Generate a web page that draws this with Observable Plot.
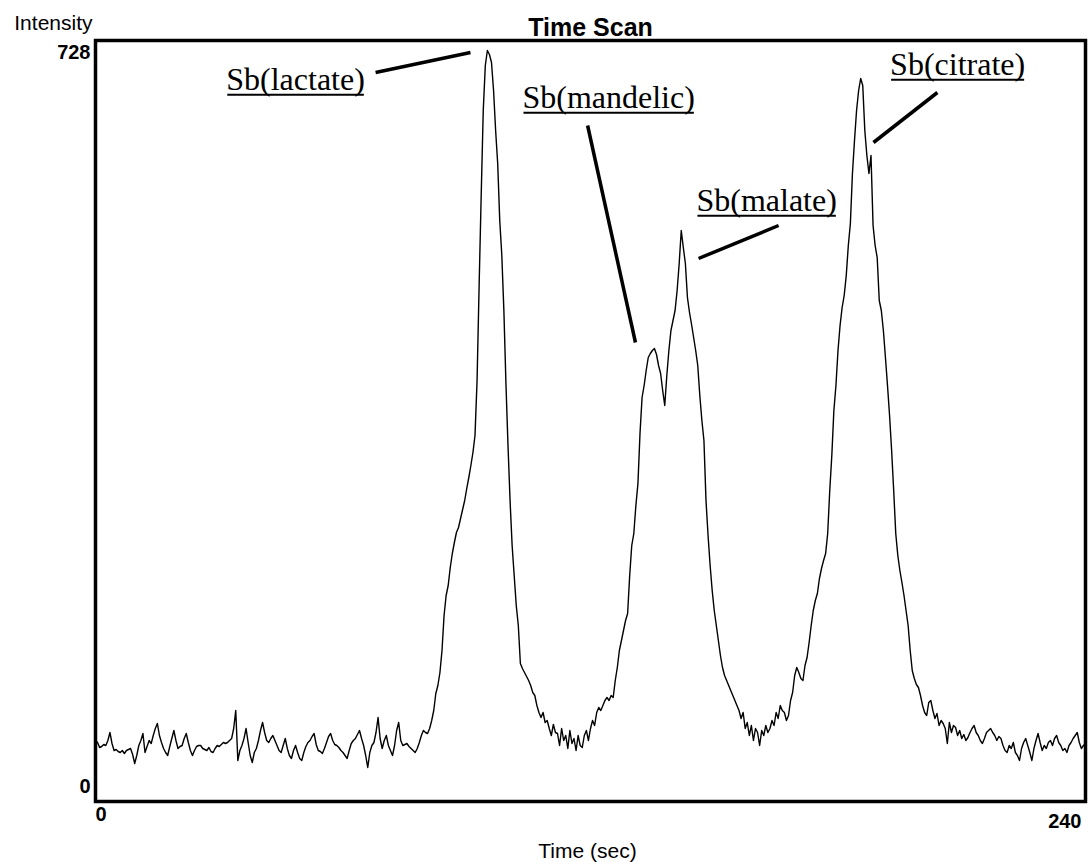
<!DOCTYPE html>
<html>
<head>
<meta charset="utf-8">
<script src="https://cdn.jsdelivr.net/npm/d3@7"></script>
<script src="https://cdn.jsdelivr.net/npm/@observablehq/plot@0.6"></script>
<style>
  html, body { margin: 0; padding: 0; background: #fff; }
</style>
</head>
<body>
<div id="chart"></div>
<script>
// Intensity readings, one every 0.5 s from 0 to 240 s
const intensity = [
  50,48,43,44,46,45,50,58,47,40,41,39,38,40,37,40,41,42,36,27,
  35,45,50,57,38,44,50,47,55,62,67,55,48,42,38,35,44,52,60,50,
  42,44,45,52,57,48,40,35,40,44,45,45,42,41,40,43,39,38,42,45,
  44,46,48,47,48,50,52,62,80,30,40,45,52,62,48,35,28,38,42,50,
  60,68,58,50,48,52,55,50,45,40,38,45,52,42,35,32,40,45,38,32,
  30,38,44,48,50,54,57,46,40,39,37,42,48,54,57,50,46,45,43,40,
  38,35,32,40,47,50,52,56,60,52,45,35,23,38,45,48,58,73,52,42,
  50,55,45,40,35,45,60,68,50,45,46,47,44,42,40,38,42,48,55,60,
  58,57,62,70,80,97,105,118,140,175,195,205,223,237,248,258,263,272,281,290,
  302,313,325,338,355,410,505,595,680,725,740,736,728,700,660,627,570,535,480,407,
  345,290,245,215,185,165,127,122,118,114,110,105,98,95,85,78,73,78,68,70,
  62,55,66,58,57,45,62,50,55,42,60,47,52,40,55,45,43,55,60,50,
  62,70,65,78,83,80,85,90,93,90,95,93,110,123,140,150,160,170,177,215,
  245,257,285,307,357,393,405,420,433,437,440,442,436,425,417,400,385,415,440,460,
  470,480,500,527,560,543,527,493,478,466,453,440,425,395,370,350,290,255,225,200,
  180,165,150,135,123,115,110,105,100,95,90,85,80,72,78,62,68,55,65,50,
  62,58,45,60,55,65,58,62,70,65,78,72,85,80,78,70,75,90,98,115,
  123,118,112,110,125,133,148,165,180,190,197,212,222,230,237,257,300,335,380,405,
  440,465,483,495,515,545,567,617,650,680,700,712,705,660,635,617,635,565,545,533,
  490,480,460,433,405,375,340,300,257,235,220,208,195,180,165,140,120,112,106,103,
  95,85,78,75,88,90,80,72,77,65,70,67,62,47,68,58,65,63,55,60,
  52,56,50,53,58,62,65,58,55,50,47,52,58,60,62,58,55,50,54,52,
  45,40,38,45,42,48,38,35,30,42,48,52,45,38,30,42,50,57,48,40,
  45,42,48,50,45,52,55,48,45,40,42,38,45,48,52,55,58,48,42,45,
  47
];
const sampleStep = 0.5; // seconds between readings

const xTicks = [0, 240];
const yTicks = [0, 728];

const titleText = "Time Scan";
const xLabel = "Time (sec)";
const yLabel = "Intensity";

// Peak labels and their leader lines (data coordinates: seconds, intensity)
const labelNames = ["Sb(lactate)", "Sb(mandelic)", "Sb(malate)", "Sb(citrate)"];
const labelTime = [48.5, 124.4, 162.7, 209];
const labelIntensity = [711, 693, 590, 726];
const leaderTimeA = [67.9, 119.3, 146.2, 188.6];
const leaderIntA = [718, 665, 532, 648];
const leaderTimeB = [90.9, 130.9, 165.6, 204.1];
const leaderIntB = [738, 448, 565, 698];

const scan = intensity.map((v, i) => ({time: i * sampleStep, value: v}));
const annotations = labelNames.map((name, i) => ({
  name, t: labelTime[i], v: labelIntensity[i],
  t1: leaderTimeA[i], v1: leaderIntA[i], t2: leaderTimeB[i], v2: leaderIntB[i]
}));

const sans = "'Liberation Sans', Arial, Helvetica, sans-serif";
const serif = "'Liberation Serif', 'Times New Roman', serif";

const chart = Plot.plot({
  width: 1088,
  height: 864,
  marginLeft: 95,
  marginRight: 3,
  marginTop: 40,
  marginBottom: 63,
  x: {domain: [xTicks[0], xTicks[1]]},
  y: {domain: [-11, 750]},
  style: {background: "white", color: "black", fontFamily: sans},
  marks: [
    Plot.line(scan, {x: "time", y: "value", stroke: "black", strokeWidth: 1.4}),
    Plot.frame({stroke: "black", strokeWidth: 3.5}),
    Plot.axisY([yTicks[1]], {tickSize: 0, tickPadding: 5, dy: -10, fontSize: 20, fontWeight: "bold", label: null}),
    Plot.axisY([yTicks[0]], {tickSize: 0, tickPadding: 5, dy: -4, fontSize: 20, fontWeight: "bold", label: null}),
    Plot.axisX([xTicks[0]], {tickSize: 0, tickPadding: 5, textAnchor: "start", fontSize: 20, fontWeight: "bold", label: null}),
    Plot.axisX([xTicks[1]], {tickSize: 0, tickPadding: 12, textAnchor: "end", dx: -4, fontSize: 20, fontWeight: "bold", label: null}),
    Plot.text([titleText], {text: d => d, frameAnchor: "top", lineAnchor: "bottom", dy: -5, fontSize: 25, fontWeight: "bold"}),
    Plot.text([yLabel], {text: d => d, frameAnchor: "top-left", textAnchor: "end", lineAnchor: "bottom", dx: -3, dy: -11, fontSize: 21}),
    Plot.text([xLabel], {text: d => d, frameAnchor: "bottom", lineAnchor: "bottom", dx: -3, dy: 56, fontSize: 21}),
    Plot.link(annotations, {x1: "t1", y1: "v1", x2: "t2", y2: "v2", stroke: "black", strokeWidth: 3.5}),
    Plot.text(annotations, {x: "t", y: "v", text: "name", fontFamily: serif, fontSize: 32, ariaLabel: "annotation"})
  ]
});

document.getElementById("chart").appendChild(chart);

// underline the peak labels: a line under each label's own text box,
// placed in the same group and with the same transform as the label
d3.select(chart).selectAll("text")
  .filter(function() { return labelNames.includes(this.textContent); })
  .each(function() {
    const b = this.getBBox();
    const yLine = b.y + b.height - 2;
    d3.select(this.parentNode).append("line")
      .attr("transform", this.getAttribute("transform"))
      .attr("x1", b.x + 1).attr("x2", b.x + b.width - 1)
      .attr("y1", yLine).attr("y2", yLine)
      .attr("stroke", "black").attr("stroke-width", 2.2);
  });
</script>
</body>
</html>
